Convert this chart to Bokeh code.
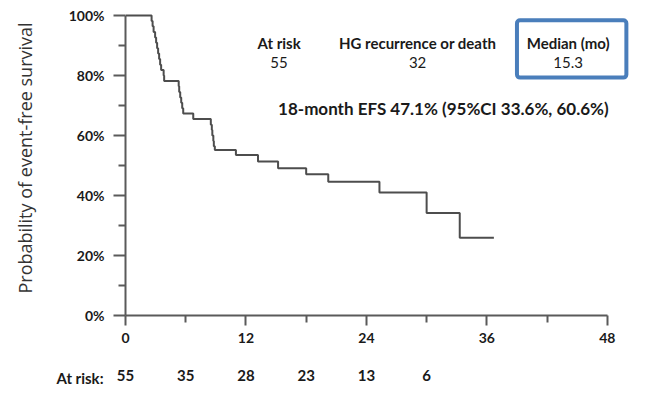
from bokeh.plotting import figure
from bokeh.layouts import column
from bokeh.models import Range1d, FixedTicker, BoxAnnotation, LinearAxis
from bokeh.core.properties import value
from bokeh.embed import file_html
from bokeh.resources import INLINE

# Kaplan-Meier estimate of event-free survival (months, %)
km_time = [0, 2.6, 2.7, 2.8, 2.95, 3.05, 3.15, 3.25, 3.35, 3.45, 3.55, 3.8, 3.85,
           5.3, 5.35, 5.45, 5.55, 5.65, 5.75, 6.75,
           8.5, 8.6, 8.65, 8.75, 8.8, 8.9,
           11.0, 13.2, 15.2, 18.0, 20.2, 25.3, 30.0, 33.3, 36.7]
km_surv = [100, 98.2, 96.4, 94.5, 92.7, 90.9, 89.1, 87.3, 85.5, 83.6, 81.8, 80.0, 78.2,
           76.4, 74.5, 72.7, 70.9, 69.1, 67.3, 65.5,
           63.6, 61.8, 60.0, 58.2, 56.4, 55.2,
           53.5, 51.3, 49.1, 47.1, 44.6, 41.0, 34.2, 25.9, 25.9]

# Number at risk below the time axis
risk_time = [0, 6, 12, 18, 24, 30]
risk_count = [55, 35, 28, 23, 13, 6]

# Axis ticks
x_ticks = [0, 12, 24, 36, 48]
x_minor = [6, 18, 30, 42]
y_ticks = [0, 20, 40, 60, 80, 100]
y_minor = [10, 30, 50, 70, 90]

# Summary statistics
n_at_risk = 55
n_events = 32
median_mo = 15.3
efs_18 = 47.1
ci_low = 33.6
ci_high = 60.6

FONT = "Lato"
TXT = "#1a1a1a"
AX = "#5a5a5a"

time_range = Range1d(0, 53.3)

# ---- survival panel ----
p = figure(width=670, height=355, x_range=time_range, y_range=Range1d(0, 105),
           output_backend="svg", toolbar_location=None,
           min_border_left=125, min_border_right=10, min_border_top=0, min_border_bottom=40)
p.outline_line_color = None
p.xgrid.grid_line_color = None
p.ygrid.grid_line_color = None

p.step(km_time, km_surv, mode="after", line_color="#4d4d4d", line_width=2)

xa = p.xaxis[0]
xa.bounds = (0, 48)
xa.ticker = FixedTicker(ticks=x_ticks, minor_ticks=x_minor)
xa.axis_line_color = AX
xa.axis_line_width = 2
xa.major_tick_line_color = AX
xa.major_tick_line_width = 2
xa.minor_tick_line_color = AX
xa.minor_tick_line_width = 2
xa.major_tick_in = 0
xa.major_tick_out = 10
xa.minor_tick_in = 0
xa.minor_tick_out = 7
xa.major_label_standoff = 7
xa.major_label_text_font = FONT
xa.major_label_text_font_style = "bold"
xa.major_label_text_font_size = "14px"
xa.major_label_text_color = TXT

ya = p.yaxis[0]
ya.bounds = (0, 100)
ya.ticker = FixedTicker(ticks=y_ticks, minor_ticks=y_minor)
ya.major_label_overrides = {v: f"{v}%" for v in y_ticks}
ya.axis_line_color = AX
ya.axis_line_width = 2
ya.major_tick_line_color = AX
ya.major_tick_line_width = 2
ya.minor_tick_line_color = AX
ya.minor_tick_line_width = 2
ya.major_tick_in = 0
ya.major_tick_out = 12
ya.minor_tick_in = 0
ya.minor_tick_out = 7
ya.major_label_standoff = 9
ya.major_label_text_font = FONT
ya.major_label_text_font_style = "bold"
ya.major_label_text_font_size = "14px"
ya.major_label_text_color = TXT
ya.axis_label = "Probability of event-free survival"
ya.axis_label_text_font = "Open Sans"
ya.axis_label_text_font_style = "normal"
ya.axis_label_text_font_size = "18px"
ya.axis_label_text_color = "#333333"
ya.axis_label_standoff = 29

# Header block: counts and median
hdr_x = [15.3, 29.1, 44.1]
hdr_title = ["At risk", "HG recurrence or death", "Median (mo)"]
hdr_value = [str(n_at_risk), str(n_events), f"{median_mo}"]
p.text(x=hdr_x, y=[91.0] * 3, text=hdr_title, text_font=value(FONT), text_font_style="bold",
       text_font_size="15px", text_align="center", text_baseline="middle", text_color=TXT)
p.text(x=hdr_x, y=[84.3] * 3, text=hdr_value, text_font=value(FONT), text_font_style="normal",
       text_font_size="15px", text_align="center", text_baseline="middle", text_color=TXT)

p.add_layout(BoxAnnotation(left=39.0, right=49.9, bottom=79.3, top=98.4,
                           fill_alpha=0, line_color="#4a7ebb", line_alpha=1.0,
                           line_width=4, border_radius=3))

p.text(x=[15.2], y=[69.0],
       text=[f"18-month EFS {efs_18}% (95%CI {ci_low}%, {ci_high}%)"],
       text_font=value(FONT), text_font_style="bold", text_font_size="17px",
       text_align="left", text_baseline="middle", text_color=TXT)

# ---- number-at-risk row: a bare time axis whose tick labels are the counts ----
q = figure(width=670, height=47, x_range=time_range, y_range=Range1d(-0.001, 1),
           x_axis_type=None, y_axis_type=None, output_backend="svg", toolbar_location=None,
           min_border_left=125, min_border_right=10, min_border_top=0, min_border_bottom=24)
q.outline_line_color = None


def bare(axis, standoff):
    axis.axis_line_color = None
    axis.major_tick_line_color = None
    axis.minor_tick_line_color = None
    axis.major_tick_in = 0
    axis.major_tick_out = 0
    axis.major_label_standoff = standoff
    axis.major_label_text_font = FONT
    axis.major_label_text_font_style = "bold"
    axis.major_label_text_font_size = "15px"
    axis.major_label_text_color = TXT
    return axis


risk_axis = bare(LinearAxis(ticker=FixedTicker(ticks=risk_time, minor_ticks=[]),
                            major_label_overrides={t: str(c) for t, c in zip(risk_time, risk_count)}),
                 -9)
q.add_layout(risk_axis, "below")

row_axis = bare(LinearAxis(ticker=FixedTicker(ticks=[0], minor_ticks=[]),
                           major_label_overrides={0: "At risk:"}), 22)
q.add_layout(row_axis, "left")

layout = column(p, q, spacing=0)
open("out.html", "w").write(file_html(layout, INLINE))
